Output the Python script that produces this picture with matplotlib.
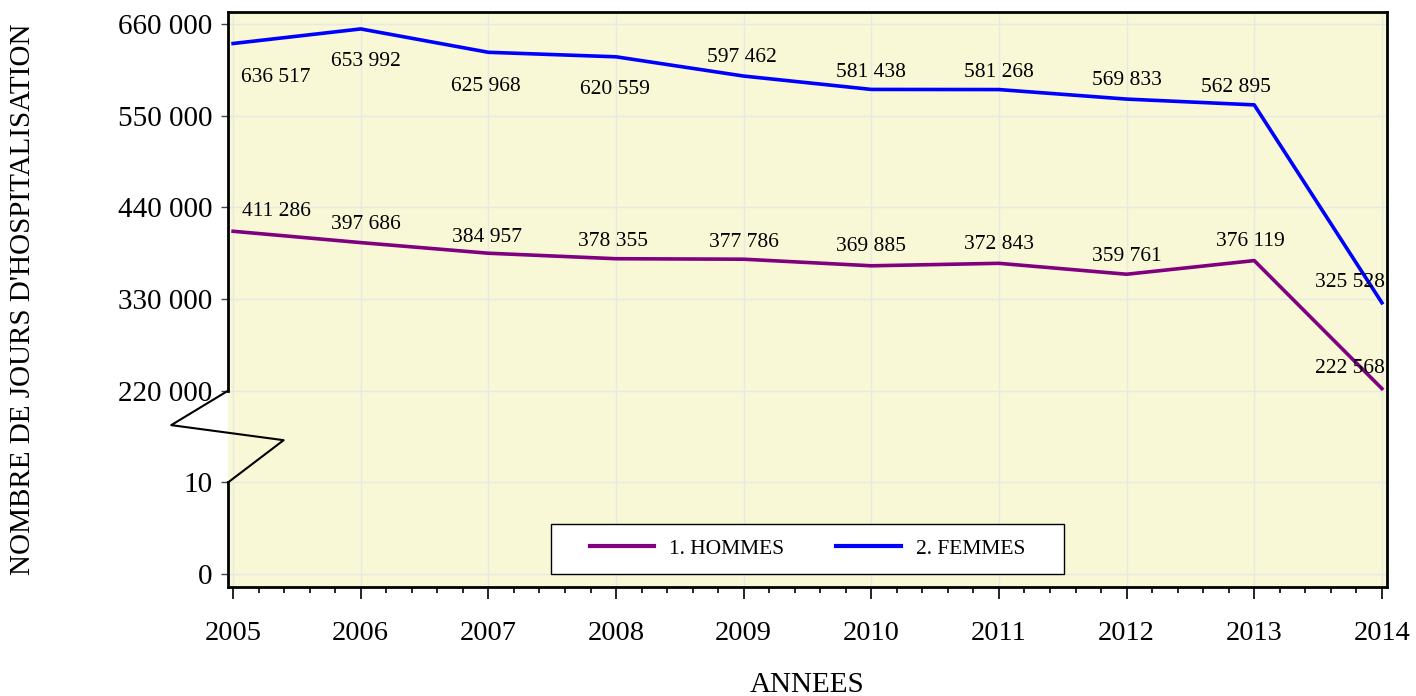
import numpy as np
import matplotlib
matplotlib.use("Agg")
import matplotlib.pyplot as plt
from matplotlib.path import Path
from matplotlib.transforms import blended_transform_factory
from matplotlib.ticker import FixedLocator, FuncFormatter, MultipleLocator

# ---------------------------------------------------------------------------
# Data
# ---------------------------------------------------------------------------
annees = [2005, 2006, 2007, 2008, 2009, 2010, 2011, 2012, 2013, 2014]
hommes = [411286, 397686, 384957, 378355, 377786, 369885, 372843, 359761, 376119, 222568]
femmes = [636517, 653992, 625968, 620559, 597462, 581438, 581268, 569833, 562895, 325528]
y_ticks = [0, 10, 220000, 330000, 440000, 550000, 660000]

# label offsets (pixels) for the value annotations
off_hommes = [(43, 20), (5, 18), (-1, 16), (-3, 17), (0, 17), (0, 19), (0, 19), (0, 18), (-4, 19), (-32, 20)]
off_femmes = [(43, -34), (5, -33), (-3, -34), (-1, -33), (-2, 19), (0, 17), (0, 17), (0, 19), (-18, 17), (-32, 20)]

C_HOM = "#800080"
C_FEM = "#0000FF"
BG = "#F8F8D6"

plt.rcParams["font.family"] = ["Liberation Serif", "DejaVu Serif"]


# ---------------------------------------------------------------------------
# Broken axis scale: 0..10 | 10..220000 squeezed | 220000..660000
# ---------------------------------------------------------------------------
def fwd(v):
    v = np.asarray(v, dtype=float)
    return np.where(v <= 10, v / 10.0,
                    np.where(v < 220000, 1 + (v - 10) / 219990.0,
                             2 + (v - 220000) / 110000.0))


def inv(u):
    u = np.asarray(u, dtype=float)
    return np.where(u <= 1, u * 10.0,
                    np.where(u < 2, 10 + (u - 1) * 219990.0,
                             220000 + (u - 2) * 110000.0))


def fmt(v):
    return f"{int(round(v)):,}".replace(",", " ")


fig = plt.figure(figsize=(14.16, 6.96), dpi=100)
ax = fig.add_axes([228 / 1416, 1 - 587 / 696, 1159 / 1416, 575 / 696])
ax.set_facecolor(BG)
ax.set_yscale("function", functions=(fwd, inv))
ax.set_xlim(2004.96, 2014.04)
ax.set_ylim(float(inv(-0.14)), float(inv(6.13)))

ax.plot(annees, hommes, color=C_HOM, lw=2.6, label="1. HOMMES", zorder=3)
ax.plot(annees, femmes, color=C_FEM, lw=2.6, label="2. FEMMES", zorder=3)

for x, v, (dx, dy) in zip(annees, hommes, off_hommes):
    ax.annotate(fmt(v), (x, v), xytext=(dx, dy), textcoords="offset pixels",
                ha="center", va="center", fontsize=15.5, zorder=4)
for x, v, (dx, dy) in zip(annees, femmes, off_femmes):
    ax.annotate(fmt(v), (x, v), xytext=(dx, dy), textcoords="offset pixels",
                ha="center", va="center", fontsize=15.5, zorder=4)

# ticks / grid
ax.yaxis.set_major_locator(FixedLocator(y_ticks))
ax.yaxis.set_minor_locator(FixedLocator([]))
ax.yaxis.set_major_formatter(FuncFormatter(lambda v, p: fmt(v)))
ax.set_xticks(annees)
ax.xaxis.set_minor_locator(MultipleLocator(0.2))
ax.tick_params(axis="x", which="major", length=8.5, width=1.2, pad=16, labelsize=20.5)
ax.tick_params(axis="x", which="minor", length=4.5, width=1.2)
ax.tick_params(axis="y", which="major", length=5, width=1, pad=6, labelsize=21, color="#444444")
ax.grid(True, which="major", color="#E8E8E4", lw=1)
ax.set_axisbelow(True)

for s in ("top", "right", "bottom"):
    ax.spines[s].set_linewidth(2)
ax.spines["left"].set_visible(False)

# left spine with the break zigzag
tr = blended_transform_factory(ax.transAxes, ax.transData)
ylo, yhi = ax.get_ylim()
ax.plot([0, 0], [ylo, 10], color="black", lw=2, transform=tr, clip_on=False, zorder=5)
ax.plot([0, 0], [220000, yhi], color="black", lw=2, transform=tr, clip_on=False, zorder=5)
zz_x = [0, -0.049, 0.048, 0]
zz_y = [220000, float(inv(1.625)), float(inv(1.461)), 10]
ax.plot(zz_x, zz_y, color="black", lw=1.5, transform=tr, clip_on=False, zorder=5)

ax.set_xlabel("ANNEES", fontsize=21)
ax.set_ylabel("NOMBRE DE JOURS D'HOSPITALISATION", fontsize=21)
ax.xaxis.set_label_coords(0.5, -0.147)
ax.yaxis.set_label_coords(-0.166, 0.5)


# legend with wider horizontal padding
def wide_box(x0, y0, width, height, mutation_size):
    px = 24
    return Path([(x0 - px, y0), (x0 + width + px, y0), (x0 + width + px, y0 + height),
                 (x0 - px, y0 + height), (x0 - px, y0)], closed=True)


leg = ax.legend(loc="lower center", bbox_to_anchor=(0.5, 0.023), ncol=2, fontsize=15.5,
                frameon=True, fancybox=False, edgecolor="black", framealpha=1,
                handlelength=3.0, handletextpad=0.7, columnspacing=2.4, borderpad=0.7,
                borderaxespad=0)
leg.get_frame().set_linewidth(1.0)
leg.get_frame().set_boxstyle(wide_box)
for h in leg.get_lines():
    h.set_linewidth(3)

fig.savefig("out.png", dpi=100)
